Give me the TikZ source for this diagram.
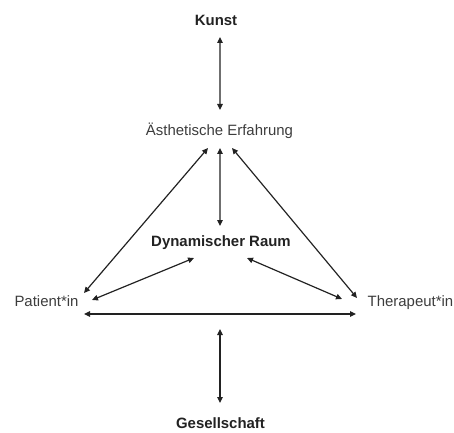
\documentclass[tikz,border=0pt]{standalone}
\usepackage{fontspec}
\setmainfont{Liberation Sans}
\usetikzlibrary{arrows.meta,calc}
\definecolor{txt}{HTML}{3C3C3C}
\definecolor{txtb}{HTML}{222222}
\definecolor{ln}{HTML}{222222}
\begin{document}
\begin{tikzpicture}[x=1bp,y=-1bp,
  lbl/.style={inner sep=0pt,anchor=base,text=txt,font=\fontsize{15}{18}\selectfont},
  lblb/.style={lbl,text=txtb,font=\fontsize{15}{18}\selectfont\bfseries},
  arr/.style={draw=ln,line width=1.2bp,{Triangle[length=6bp,width=5.5bp]}-{Triangle[length=6bp,width=5.5bp]}}]
\useasboundingbox (0,0) rectangle (454,433);
\node[lblb] (kunst) at (216,26) {Kunst};
\node[lbl] (ae) at (219.5,136) {Ästhetische Erfahrung};
\node[lblb] (dyn) at (221,246) {Dynamischer Raum};
\node[lbl] (pat) at (46.5,306) {Patient*in};
\node[lbl,anchor=base west] (ther) at (367.5,306) {Therapeut*in};
\node[lblb] (ges) at (220.5,428) {Gesellschaft};
% connectors
\draw[arr] ($(kunst.base)+(4,11)$) -- ($(ae.base)+(0.5,-26)$);
\draw[arr] ($(ae.base)+(0.5,12)$) -- ($(dyn.base)+(-1,-20)$);
\draw[arr] ($(ae.base)+(-11.5,12)$) -- ($(pat.base)+(37.5,-13)$);
\draw[arr] ($(ae.base)+(12.5,12)$) -- ($(ther.base west)+(-10.5,-8)$);
\draw[arr] ($(pat.base)+(45.5,-6)$) -- ($(dyn.base)+(-27,12)$);
\draw[arr] ($(dyn.base)+(26,12)$) -- ($(ther.base west)+(-25.5,-7)$);
\draw[arr] ($(pat.base)+(37.5,8)$) -- ($(ther.base west)+(-11.5,8)$);
\draw[arr] ($(ges.base)+(-0.5,-99)$) -- ($(ges.base)+(-0.5,-25)$);
\end{tikzpicture}
\end{document}
